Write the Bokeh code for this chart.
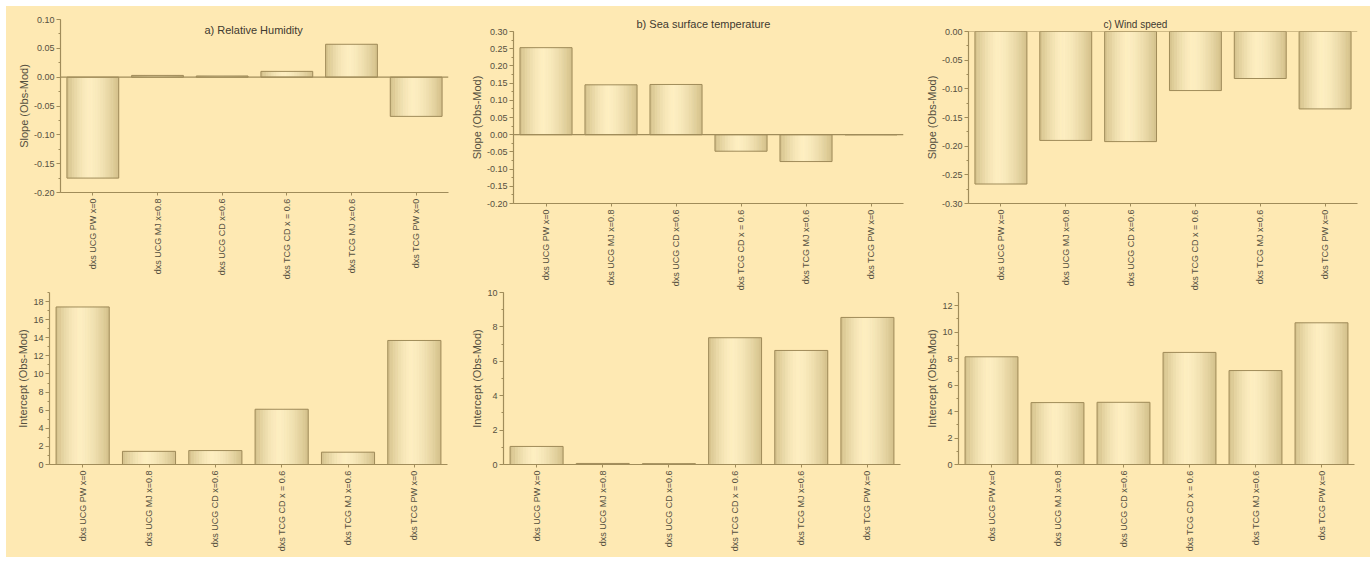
import math
from bokeh.plotting import figure
from bokeh.models import (Range1d, FactorRange, FixedTicker,
                          NumeralTickFormatter, Span, Label, Spacer)
from bokeh.transform import dodge
from bokeh.layouts import row, column
from bokeh.embed import file_html
from bokeh.resources import INLINE

# ---------------- data ----------------
categories = ["dxs UCG PW x=0", "dxs UCG MJ x=0.8", "dxs UCG CD x=0.6",
              "dxs TCG CD x = 0.6", "dxs TCG MJ x=0.6", "dxs TCG PW x=0"]

rh_slope = [-0.175, 0.003, 0.002, 0.010, 0.057, -0.068]
sst_slope = [0.253, 0.145, 0.146, -0.048, -0.078, 0.0]
ws_slope = [-0.266, -0.190, -0.192, -0.103, -0.082, -0.135]

rh_intercept = [17.4, 1.45, 1.54, 6.1, 1.36, 13.7]
sst_intercept = [1.05, 0.06, 0.05, 7.37, 6.63, 8.55]
ws_intercept = [8.14, 4.68, 4.70, 8.47, 7.10, 10.71]

titles = ["a) Relative Humidity", "b) Sea surface temperature", "c) Wind speed"]
slope_label = "Slope (Obs-Mod)"
intercept_label = "Intercept (Obs-Mod)"

# ---------------- style ----------------
BG = "#FEE9B3"
AXIS = "#A08C5A"
TXT = "#55503F"
TITLE = "#3E3A30"
FONT = "Liberation Sans"
DARK = (211, 192, 138)
LIGHT = (253, 238, 193)
N_STRIPS = 20
BAR_W = 0.8


def strip_color(t):
    peak = 0.45
    d = (peak - t) / peak if t < peak else (t - peak) / (1 - peak)
    w = 1 - d ** 1.6
    c = [int(round(DARK[i] + (LIGHT[i] - DARK[i]) * w)) for i in range(3)]
    return "#%02x%02x%02x" % tuple(c)


def tick_list(y0, y1, step):
    n = int(round((y1 - y0) / step))
    return [round(y0 + i * step, 6) for i in range(n + 1)]


def panel(vals, y0, y1, interval, fmt, ylabel, width, height,
          bl, br, bt, bb, zero_line=False, transparent=False):
    p = figure(x_range=FactorRange(*categories), y_range=Range1d(y0, y1),
               width=width, height=height, output_backend="svg",
               toolbar_location=None, min_border_left=bl, min_border_right=br,
               min_border_top=bt, min_border_bottom=bb)
    p.frame_align = False
    p.background_fill_color = BG
    p.border_fill_color = BG
    if transparent:
        p.border_fill_alpha = 0
    p.outline_line_color = None
    p.xgrid.visible = False
    p.ygrid.visible = False

    data = dict(cat=categories, val=vals, base=[0] * len(vals))
    sw = BAR_W / N_STRIPS
    for k in range(N_STRIPS):
        t = (k + 0.5) / N_STRIPS
        off = -BAR_W / 2 + sw * (k + 0.5)
        col = strip_color(t)
        p.vbar(x=dodge("cat", off, range=p.x_range), top="val", bottom="base",
               width=sw, source=data, fill_color=col, line_color=col,
               line_width=0.6)
    p.vbar(x="cat", top="val", bottom="base", width=BAR_W, source=data,
           fill_color=None, line_color=AXIS, line_width=1)

    if zero_line:
        p.add_layout(Span(location=0, dimension="width", line_color=AXIS,
                          line_width=1.2))

    for ax in (p.xaxis[0], p.yaxis[0]):
        ax.axis_line_color = AXIS
        ax.axis_line_width = 1.2
        ax.major_tick_line_color = AXIS
        ax.minor_tick_line_color = AXIS
        ax.major_tick_in = 0
        ax.major_tick_out = 4
        ax.minor_tick_in = 0
        ax.minor_tick_out = 2
        ax.major_label_text_font = FONT
        ax.major_label_text_font_size = "9px"
        ax.major_label_text_color = TXT
        ax.major_label_standoff = 3

    p.xaxis.major_label_orientation = math.pi / 2
    p.xaxis.major_tick_out = 3
    p.yaxis.major_label_standoff = 2
    p.yaxis.ticker = FixedTicker(ticks=tick_list(y0, y1, interval),
                                 minor_ticks=tick_list(y0, y1, interval / 2))
    p.yaxis.formatter = NumeralTickFormatter(format=fmt)
    p.yaxis.axis_label = ylabel
    p.yaxis.axis_label_text_font = FONT
    p.yaxis.axis_label_text_font_size = "11px"
    p.yaxis.axis_label_text_font_style = "normal"
    p.yaxis.axis_label_text_color = TXT
    p.yaxis.axis_label_standoff = 1
    return p


def set_title(p, text, offset, size="11px"):
    p.title.text = text
    p.title.text_font = FONT
    p.title.text_font_size = size
    p.title.text_font_style = "normal"
    p.title.text_color = TITLE
    p.title.align = "left"
    p.title.offset = offset
    p.title.standoff = 3


# top row
pa = panel(rh_slope, -0.20, 0.10, 0.05, "0.00", slope_label, 452, 287,
           54, 10, 13, 101, zero_line=True)
pa.add_layout(Label(x=2.226, y=0.0826, text=titles[0], text_font=FONT,
                    text_font_size="11px", text_color=TITLE,
                    text_align="left", text_baseline="middle"))

pb = panel(sst_slope, -0.20, 0.30, 0.05, "0.00", slope_label, 452, 287,
           55, 7, 25, 90, zero_line=True)
set_title(pb, titles[1], 123)

pc = panel(ws_slope, -0.30, 0.00, 0.05, "0.00", slope_label, 460, 287,
           58, 13, 25, 90, zero_line=True)
set_title(pc, titles[2], 135, "10px")

# bottom row (overlaps the lower label area of the top row)
pd = panel(rh_intercept, 0, 19, 2, "0", intercept_label, 452, 275,
           43, 11, 10, 93, transparent=True)
pe = panel(sst_intercept, 0, 10, 2, "0", intercept_label, 452, 275,
           45, 10, 10, 93, transparent=True)
pf = panel(ws_intercept, 0, 13, 2, "0", intercept_label, 460, 275,
           48, 16, 10, 93, transparent=True)

top_row = row(pa, pb, pc, spacing=0)
bottom_row = row(pd, pe, pf, spacing=0, styles={"margin-top": "-11px"})
inner = column(top_row, bottom_row, spacing=0,
               styles={"background-color": BG})
layout = column(Spacer(width=10, height=6),
                row(Spacer(width=6, height=10), inner, spacing=0),
                spacing=0)

open("out.html", "w").write(file_html(layout, INLINE))
